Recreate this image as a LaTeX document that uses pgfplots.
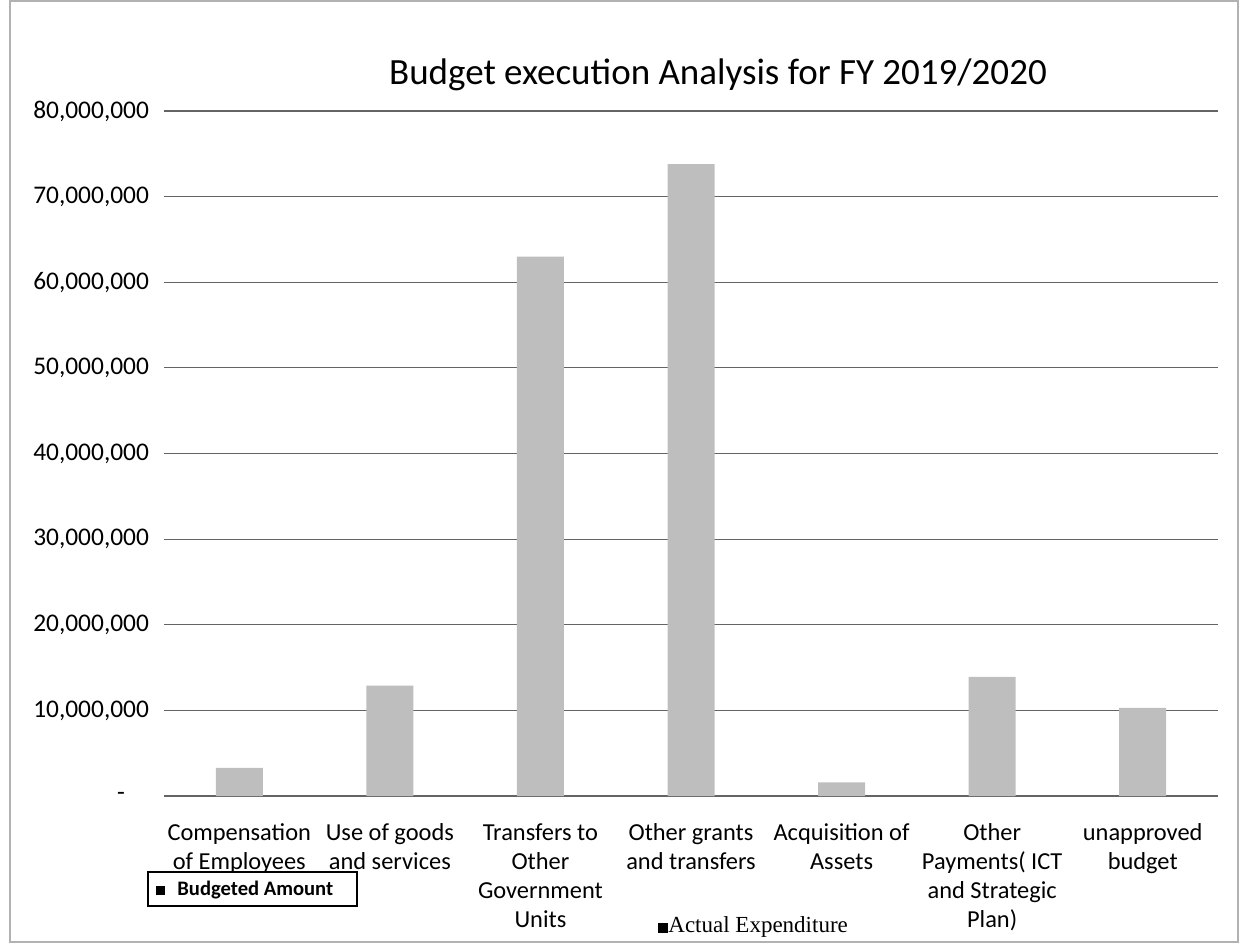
\documentclass[border=0pt]{standalone}
\usepackage{pgfplots}
\pgfplotsset{compat=1.18}
\usepackage{fontspec}
\setmainfont{Carlito}
\newfontfamily\timesf{Liberation Serif}
\definecolor{bargray}{RGB}{190,190,190}
\definecolor{gridgray}{RGB}{100,100,100}
\begin{document}
\begin{tikzpicture}
\useasboundingbox (-82pt,-76.5pt) rectangle (541pt,398pt);
\draw[gray!60, line width=0.6pt] (-77pt,-73pt) rectangle (537pt,397.5pt);
\begin{axis}[
  at={(0,0)}, anchor=south west,
  scale only axis,
  width=527pt, height=342.5pt,
  xmin=-0.5, xmax=6.5,
  ymin=0, ymax=80000000,
  scaled y ticks=false,
  axis line style={draw=none},
  tick style={draw=none},
  ymajorgrids,
  grid style={gridgray, line width=0.6pt},
  ytick={0,10000000,20000000,30000000,40000000,50000000,60000000,70000000,80000000},
  yticklabels={{-\hspace*{12pt}},{10,000,000},{20,000,000},{30,000,000},{40,000,000},{50,000,000},{60,000,000},{70,000,000},{80,000,000}},
  yticklabel style={font=\fontsize{12.7}{14}\selectfont, xshift=-4pt},
  xtick={0,1,2,3,4,5,6},
  xticklabels={{Compensation\\of Employees},{Use of goods\\and services},{Transfers to\\Other\\Government\\Units},{Other grants\\and transfers},{Acquisition of\\Assets},{Other\\Payments( ICT\\and Strategic\\Plan)},{unapproved\\budget}},
  xticklabel style={font=\fontsize{12.2}{14.5}\selectfont, align=center, anchor=north, yshift=-6pt},
  ybar, bar width=23.5pt,
  clip=false,
]
\addplot[fill=bargray, draw=none] coordinates {
  (0,3300000) (1,12900000) (2,63000000) (3,73800000) (4,1600000) (5,13900000) (6,10300000)
};
\end{axis}
\node[font=\fontsize{18.5}{22}\selectfont] at (277pt,360.5pt) {Budget execution Analysis for FY 2019/2020};
\draw[black, line width=0.7pt] (-8pt,-38pt) rectangle (96.5pt,-55pt);
\node[anchor=west, font=\fontsize{10.3}{12}\selectfont\bfseries, inner sep=0pt] at (-4pt,-47pt) {\rule{4.5pt}{4.5pt}\hspace{6pt}Budgeted Amount};
\node[anchor=west, font=\timesf\fontsize{11.5}{13}\selectfont, inner sep=0pt] at (247pt,-65.5pt) {\rule{5pt}{5pt}Actual Expenditure};
\end{tikzpicture}
\end{document}
